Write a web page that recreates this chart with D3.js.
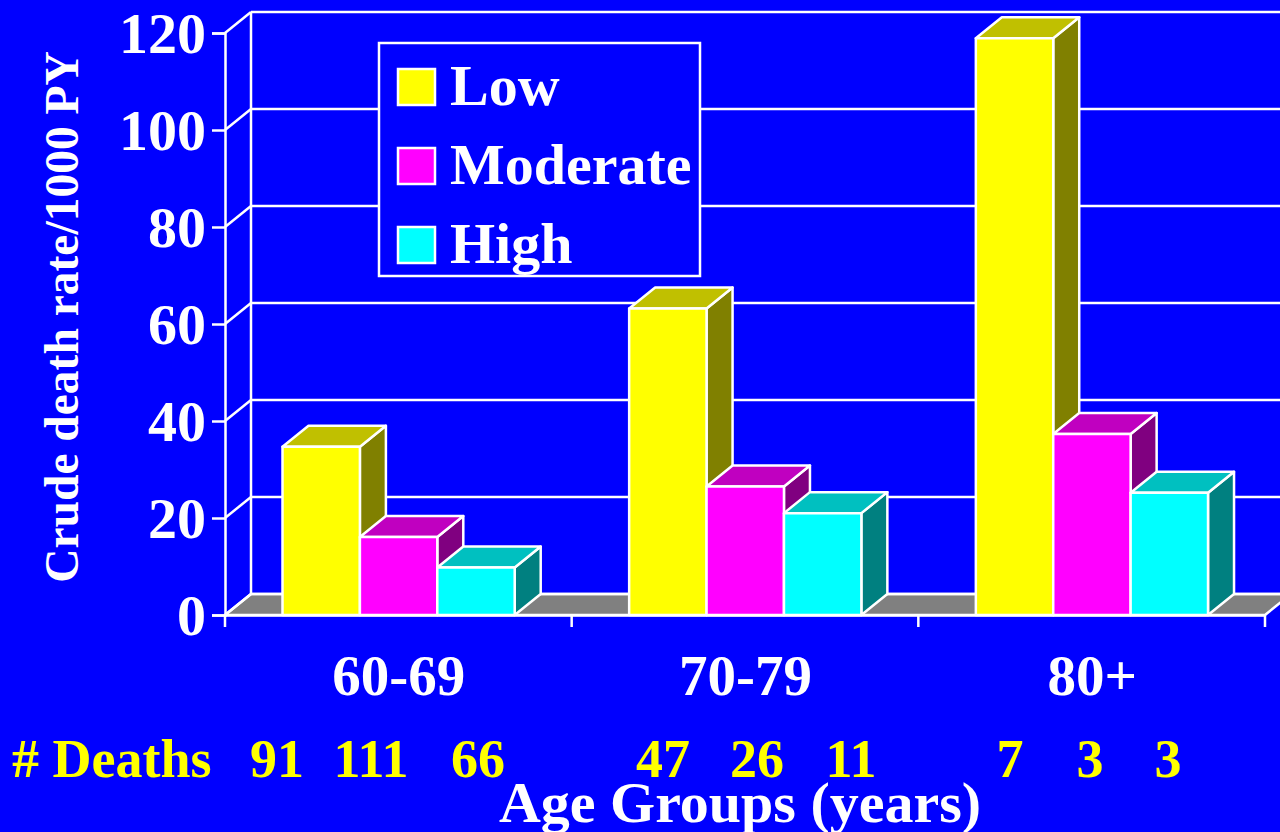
<!DOCTYPE html>
<html>
<head>
<meta charset="utf-8">
<script src="https://cdn.jsdelivr.net/npm/d3@7/dist/d3.min.js"></script>
<style>
  html, body { margin: 0; padding: 0; background: #0000ff; }
  svg { display: block; }
  text { font-family: "Liberation Serif", "Times New Roman", serif; font-weight: bold; }
</style>
</head>
<body>
<svg id="chart" width="1280" height="832"></svg>
<script>
// Crude death rate per 1000 person-years by age group and level
const ageGroups = ["60-69", "70-79", "80+"];
const seriesNames = ["Low", "Moderate", "High"];
const lowRates = [34.7, 63.2, 118.9];
const moderateRates = [16.1, 26.5, 37.3];
const highRates = [9.8, 21.0, 25.2];
const yTicks = [0, 20, 40, 60, 80, 100, 120];
const deathCounts = [[91, 111, 66], [47, 26, 11], [7, 3, 3]];

const seriesValues = [lowRates, moderateRates, highRates];
const frontColors = ["#ffff00", "#ff00ff", "#00ffff"];
const topColors = ["#c0c000", "#c000c0", "#00c0c0"];
const sideColors = ["#808000", "#800080", "#008080"];

const svg = d3.select("#chart");
const W = 1280, H = 832;
svg.append("rect").attr("width", W).attr("height", H).attr("fill", "#0000ff");

// 3D depth offset of the back wall
const DX = 26, DY = -21;

const y = d3.scaleLinear().domain([0, 120]).range([615, 33]);
const x0 = d3.scaleBand().domain(ageGroups).range([225, 1265]).padding(0);
const x1 = d3.scaleBand().domain(seriesNames).range([57.5, 289.7]).padding(0);

const g = svg.append("g");

// floor
const floorPts = [[x0.range()[0], y(0)], [x0.range()[1], y(0)],
                  [x0.range()[1] + DX, y(0) + DY], [x0.range()[0] + DX, y(0) + DY]];
g.append("path")
  .attr("d", d3.line()(floorPts) + "Z")
  .attr("fill", "#808080")
  .attr("stroke", "white").attr("stroke-width", 2.5).attr("stroke-linejoin", "round");

// back wall gridlines and their side-wall diagonals
const grid = g.append("g").attr("stroke", "white").attr("stroke-width", 2.5).attr("fill", "none");
yTicks.forEach(t => {
  grid.append("line")
    .attr("x1", x0.range()[0] + DX).attr("x2", W + 20)
    .attr("y1", y(t) + DY).attr("y2", y(t) + DY);
  grid.append("line")
    .attr("x1", x0.range()[0]).attr("x2", x0.range()[0] + DX)
    .attr("y1", y(t)).attr("y2", y(t) + DY);
});
// back wall left edge
grid.append("line")
  .attr("x1", x0.range()[0] + DX).attr("x2", x0.range()[0] + DX)
  .attr("y1", y(120) + DY).attr("y2", y(0) + DY);

// front value axis
const yAxis = d3.axisLeft(y).tickValues(yTicks).tickSize(13).tickFormat("");
const yAxisG = g.append("g").attr("transform", `translate(${x0.range()[0]},0)`).call(yAxis);
yAxisG.select(".domain").attr("stroke", "white").attr("stroke-width", 2.5);
yAxisG.selectAll(".tick line").attr("stroke", "white").attr("stroke-width", 2.5);

g.append("g").selectAll("text").data(yTicks).join("text")
  .attr("x", 206).attr("y", d => y(d)).attr("dy", "0.35em")
  .attr("text-anchor", "end").attr("fill", "white").attr("font-size", 58)
  .text(d => d);

// category axis
const xAxisG = g.append("g").attr("transform", `translate(0,${y(0)})`)
  .call(d3.axisBottom(x0).tickSize(0).tickFormat(""));
xAxisG.select(".domain").attr("stroke", "white").attr("stroke-width", 2.5);
const catEdges = [x0.range()[0], ...ageGroups.map(a => x0(a) + x0.bandwidth())];
g.append("g").selectAll("line").data(catEdges).join("line")
  .attr("x1", d => d).attr("x2", d => d)
  .attr("y1", y(0)).attr("y2", y(0) + 12)
  .attr("stroke", "white").attr("stroke-width", 2.5);

// 3D bars
const bars = g.append("g").attr("stroke", "white").attr("stroke-width", 2.5).attr("stroke-linejoin", "round");
ageGroups.forEach((grp, gi) => {
  seriesNames.forEach((s, si) => {
    const v = seriesValues[si][gi];
    const xl = x0(grp) + x1(s), xr = xl + x1.bandwidth();
    const yt = y(v), yb = y(0);
    const bar = bars.append("g");
    bar.append("path")
      .attr("d", d3.line()([[xr, yb], [xr + DX, yb + DY], [xr + DX, yt + DY], [xr, yt]]) + "Z")
      .attr("fill", sideColors[si]);
    bar.append("path")
      .attr("d", d3.line()([[xl, yt], [xr, yt], [xr + DX, yt + DY], [xl + DX, yt + DY]]) + "Z")
      .attr("fill", topColors[si]);
    bar.append("rect")
      .attr("x", xl).attr("y", yt).attr("width", xr - xl).attr("height", yb - yt)
      .attr("fill", frontColors[si]);
  });
});

// category labels
g.append("g").selectAll("text").data(ageGroups).join("text")
  .attr("x", d => x0(d) + x0.bandwidth() / 2 + 0.5).attr("y", 695)
  .attr("text-anchor", "middle").attr("fill", "white").attr("font-size", 57)
  .text(d => d);

// death counts row
g.append("text").attr("x", 12).attr("y", 777)
  .attr("fill", "#ffff00").attr("font-size", 54).text("# Deaths");
const deathX = [[277, 371, 478], [663, 757, 851], [1010, 1090, 1168]];
deathCounts.forEach((row, gi) => {
  row.forEach((n, si) => {
    g.append("text").attr("x", deathX[gi][si]).attr("y", 777)
      .attr("text-anchor", "middle").attr("fill", "#ffff00").attr("font-size", 54)
      .text(n);
  });
});

// axis titles
g.append("text").attr("x", 740).attr("y", 822)
  .attr("text-anchor", "middle").attr("fill", "white").attr("font-size", 58)
  .text("Age Groups (years)");
g.append("text")
  .attr("transform", "translate(78,317) rotate(-90)")
  .attr("text-anchor", "middle").attr("fill", "white").attr("font-size", 47.5)
  .text("Crude death rate/1000 PY");

// legend
const legend = g.append("g");
legend.append("rect").attr("x", 379).attr("y", 43).attr("width", 321).attr("height", 233)
  .attr("fill", "#0000ff").attr("stroke", "white").attr("stroke-width", 2.5);
seriesNames.forEach((s, i) => {
  const ly = 69 + i * 79;
  legend.append("rect").attr("x", 398).attr("y", ly).attr("width", 37).attr("height", 36)
    .attr("fill", frontColors[i]).attr("stroke", "white").attr("stroke-width", 2.5);
  legend.append("text").attr("x", 450).attr("y", ly + 36)
    .attr("fill", "white").attr("font-size", 58).text(s);
});
</script>
</body>
</html>
